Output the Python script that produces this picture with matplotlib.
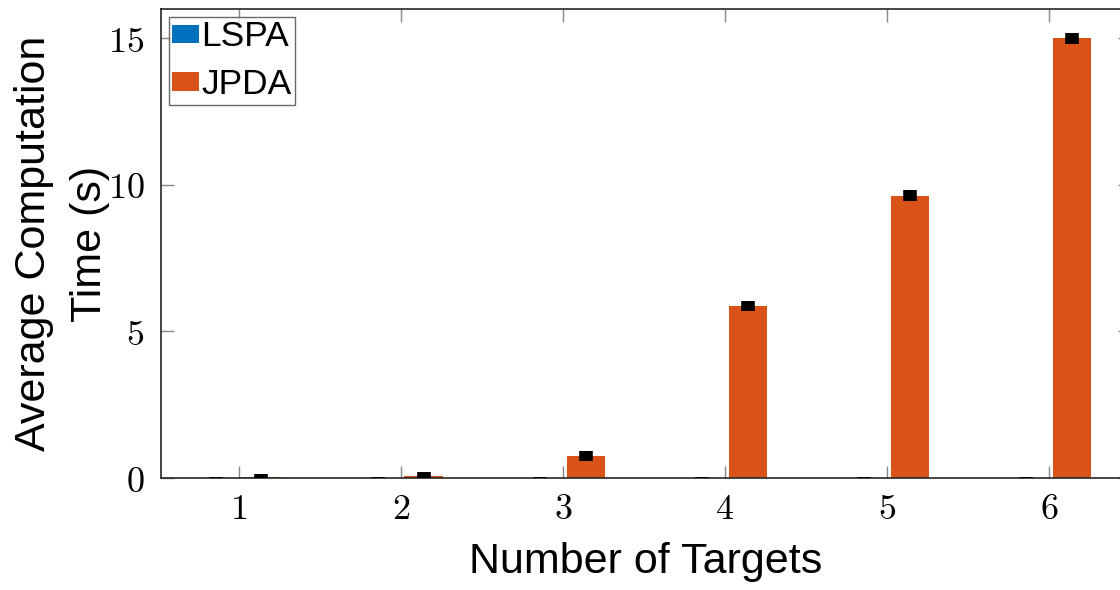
import matplotlib
matplotlib.use("Agg")
import matplotlib.pyplot as plt
import numpy as np

targets = [1, 2, 3, 4, 5, 6]
lspa_time = [0.005, 0.005, 0.005, 0.005, 0.005, 0.005]
jpda_time = [0.02, 0.07, 0.75, 5.87, 9.63, 15.0]
lspa_err = [0.02, 0.02, 0.02, 0.02, 0.02, 0.02]
jpda_err = [0.1, 0.15, 0.16, 0.18, 0.18, 0.19]
yticks = [0, 5, 10, 15]

plt.rcParams['mathtext.fontset'] = 'cm'
plt.rcParams['font.family'] = ['Liberation Sans', 'DejaVu Sans']

fig = plt.figure(figsize=(11.2, 5.9), dpi=100)
ax = fig.add_axes([161/1120, 1-478/590, (1130-161)/1120, (478-9)/590])

x = np.array(targets, dtype=float)
w = 0.235
off = 0.14
c1 = '#0072BD'
c2 = '#D95319'
ax.bar(x - off, lspa_time, width=w, color=c1, label='LSPA', zorder=2)
ax.bar(x + off, jpda_time, width=w, color=c2, label='JPDA', zorder=2)
ax.errorbar(x - off, lspa_time, yerr=lspa_err, fmt='none', ecolor='black',
            elinewidth=9.8, capsize=0, zorder=3)
ax.errorbar(x + off, jpda_time, yerr=jpda_err, fmt='none', ecolor='black',
            elinewidth=9.8, capsize=0, zorder=3)

ax.set_xlim(0.52, 6.5)
ax.set_ylim(0, 16)
ax.set_xticks(targets)
ax.set_xticklabels([f'${t}$' for t in targets], fontsize=26)
ax.set_yticks(yticks)
ax.set_yticklabels([f'${t}$' for t in yticks], fontsize=26)
ax.tick_params(direction='in', length=9, width=1, color='#888888',
               top=True, right=True)
ax.tick_params(axis='x', pad=10)
ax.tick_params(axis='y', pad=12)
for s in ax.spines.values():
    s.set_color('#262626')
    s.set_linewidth(1.2)

ax.set_xlabel('Number of Targets', fontsize=31)
ax.xaxis.set_label_coords(0.5, -(542-478)/469)
ax.set_ylabel('Average Computation\nTime (s)', fontsize=31, linespacing=1.5)
ax.yaxis.set_label_coords(-(161-110)/969, 0.5)

leg = ax.legend(loc='upper left', fontsize=25.5, frameon=True, fancybox=False,
                edgecolor='#444444', handlelength=0.76, handleheight=0.42,
                handletextpad=0.05, borderpad=0.1, labelspacing=0.42,
                borderaxespad=0.22)
leg.get_frame().set_linewidth(1.0)

fig.savefig('out.png', dpi=100)
